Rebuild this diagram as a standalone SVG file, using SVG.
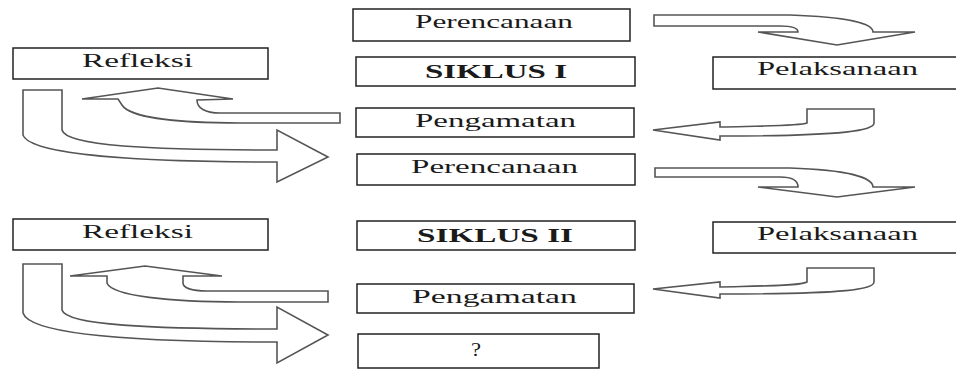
<svg xmlns="http://www.w3.org/2000/svg" width="956" height="369" viewBox="0 0 956 369">
<style>
.box{fill:#fff;stroke:#222;stroke-width:1.5}
.arr{fill:#fff;stroke:#555;stroke-width:1.6;stroke-linejoin:miter}
.t{font-family:"Liberation Serif","Times New Roman",serif;font-size:18px;fill:#1a1a1a}
.b{font-weight:bold}
</style>
<rect width="956" height="369" fill="#fff"/>
<g id="connectors">
<path class="arr" d="M654,15 L790,15 C850,17 873,24 873,32 L915,32 L837,45 L758,32 L798,32 C798,28 792,26 780,26 L654,26 Z"/>
<path class="arr" d="M653,130 L720,122 L720,127 C760,126 800,126 807,123 L807,109 L874,109 L874,123 C874,130 850,136 720,136 L720,140 Z"/>
<path class="arr" d="M340,113 L220,113 C205,113 197,108 197,100 L233,99 L158,88 L82,99 L118,99 L122,105 C130,118 180,123 240,123 L340,123 Z"/>
<path class="arr" d="M23,90 L62,90 L62,130 C66,146 150,150 277,150 L277,130 L328,157 L277,182 L277,162 C140,162 30,155 23,135 Z"/>
<path class="arr" d="M655,168 L790,168 C850,170 873,178 873,187 L915,187 L837,197 L758,187 L798,187 C798,181 792,177 780,177 L655,177 Z"/>
<path class="arr" d="M653,289 L720,282 L720,287 C760,286 800,286 807,282 L807,268 L874,268 L874,282 C874,289 850,294 720,294 L720,298 Z"/>
<path class="arr" d="M328,291 L207,291 C192,291 183,288 183,283 L183,276 L222,276 L145,266 L70,276 L107,276 L107,283 C112,296 170,302 240,302 L328,302 Z"/>
<path class="arr" d="M23,264 L62,264 L62,310 C66,325 150,329 277,329 L277,307 L328,335 L277,363 L277,342 C140,342 30,335 23,313 Z"/>
</g>
<g id="perencanaan1"><rect class="box" x="353" y="9" width="277" height="32"/><text class="t" x="415" y="28" textLength="158" lengthAdjust="spacingAndGlyphs">Perencanaan</text></g>
<g id="siklus1"><rect class="box" x="356" y="57" width="279" height="29"/><text class="t b" x="425" y="78" textLength="142" lengthAdjust="spacingAndGlyphs">SIKLUS I</text></g>
<g id="pengamatan1"><rect class="box" x="356" y="108" width="278" height="29"/><text class="t" x="415" y="127" textLength="161" lengthAdjust="spacingAndGlyphs">Pengamatan</text></g>
<g id="refleksi1"><rect class="box" x="13" y="48" width="255" height="31"/><text class="t" x="82" y="67" textLength="111" lengthAdjust="spacingAndGlyphs">Refleksi</text></g>
<g id="pelaksanaan1"><rect class="box" x="713" y="57" width="250" height="32"/><text class="t" x="757" y="75" textLength="161" lengthAdjust="spacingAndGlyphs">Pelaksanaan</text></g>
<g id="perencanaan2"><rect class="box" x="357" y="154" width="278" height="31"/><text class="t" x="411" y="173" textLength="167" lengthAdjust="spacingAndGlyphs">Perencanaan</text></g>
<g id="siklus2"><rect class="box" x="357" y="221" width="278" height="29"/><text class="t b" x="417" y="242" textLength="156" lengthAdjust="spacingAndGlyphs">SIKLUS II</text></g>
<g id="pengamatan2"><rect class="box" x="357" y="284" width="277" height="29"/><text class="t" x="412" y="303" textLength="165" lengthAdjust="spacingAndGlyphs">Pengamatan</text></g>
<g id="refleksi2"><rect class="box" x="13" y="219" width="255" height="31"/><text class="t" x="82" y="238" textLength="111" lengthAdjust="spacingAndGlyphs">Refleksi</text></g>
<g id="pelaksanaan2"><rect class="box" x="713" y="222" width="250" height="31"/><text class="t" x="757" y="240" textLength="161" lengthAdjust="spacingAndGlyphs">Pelaksanaan</text></g>
<g id="tanya"><rect class="box" x="358" y="334" width="241" height="34"/><text class="t" x="471" y="356" textLength="10" lengthAdjust="spacingAndGlyphs">?</text></g>
</svg>
